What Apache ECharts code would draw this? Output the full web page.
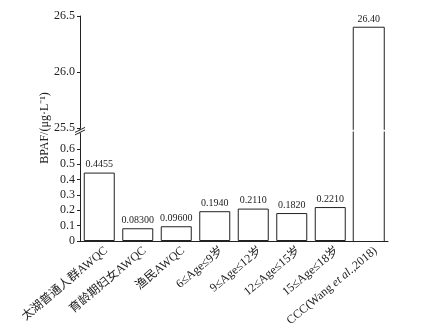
<!DOCTYPE html>
<html><head><meta charset="utf-8">
<script src="https://cdn.jsdelivr.net/npm/echarts@6/dist/echarts.min.js"></script>
<style>html,body{margin:0;padding:0;background:#fff}#c{width:426px;height:332px}</style>
</head><body><div id="c"></div>
<script>
const categories = ['太湖普通人群AWQC','育龄期妇女AWQC','渔民AWQC','6≤Age≤9岁','9≤Age≤12岁','12≤Age≤15岁','15≤Age≤18岁','CCC(Wang et al.,2018)'];
const values = [0.4455, 0.083, 0.096, 0.194, 0.211, 0.182, 0.221, 26.40];
const valueLabels = ['0.4455','0.08300','0.09600','0.1940','0.2110','0.1820','0.2210','26.40'];
const lowerTicks = [0, 0.1, 0.2, 0.3, 0.4, 0.5, 0.6];
const upperTicks = [25.5, 26.0, 26.5];
const lowerMax = 0.7;
const yName = 'BPAF/(μg·L⁻¹)';

const FONT = "'Liberation Serif','Times New Roman','Noto Sans CJK SC',serif";
const INK = '#222';
const BAR_W = 31;

const lowerBars = values.map(v => v > lowerMax ? '-' : v);
const tallIdx = [];
values.forEach((v, i) => { if (v > lowerMax) tallIdx.push([i, v]); });

const chart = echarts.init(document.getElementById('c'), null, {renderer: 'canvas'});

function lowerRender(params, api) {
  const i = api.value(0);
  const b = api.coord([i, 0]);
  const t = api.coord([i, lowerMax]);
  const w = BAR_W / 2;
  const yt = t[1] - 2;
  return {type: 'group', children: [
    {type: 'line', shape: {x1: b[0] - w, y1: b[1], x2: b[0] - w, y2: yt}, style: {stroke: INK, lineWidth: 1}},
    {type: 'line', shape: {x1: b[0] + w, y1: b[1], x2: b[0] + w, y2: yt}, style: {stroke: INK, lineWidth: 1}}
  ]};
}
function upperRender(params, api) {
  const i = api.value(0);
  const v = api.value(1);
  const b = api.coord([i, upperTicks[0]]);
  const t = api.coord([i, v]);
  const w = BAR_W / 2;
  const yb = b[1] + 1.5;
  return {type: 'group', children: [
    {type: 'polyline', shape: {points: [[b[0] - w, yb], [b[0] - w, t[1]], [b[0] + w, t[1]], [b[0] + w, yb]]},
      style: {stroke: INK, lineWidth: 1, fill: null}},
    {type: 'text', style: {x: t[0], y: t[1] - 3, text: valueLabels[i],
      textAlign: 'center', textVerticalAlign: 'bottom', font: "10px " + FONT, fill: INK}}
  ]};
}

const axisLbl = {fontFamily: FONT, fontSize: 12, color: INK};

chart.setOption({
  animation: false,
  backgroundColor: '#fff',
  grid: [
    {left: 80, right: 38, top: 133.5, height: 107.5, outerBoundsMode: 'none', containLabel: false},
    {left: 80, right: 38, top: 16, height: 112.3, outerBoundsMode: 'none', containLabel: false}
  ],
  xAxis: [
    {type: 'category', gridIndex: 0, data: categories,
      axisLine: {lineStyle: {color: INK, width: 1}}, axisTick: {show: false},
      axisLabel: {interval: 0, rotate: 40, margin: 14, padding: [0, -9, 0, 0],
        fontFamily: FONT, fontSize: 12, color: INK,
        formatter: function (v) {
          if (v.indexOf('et al.') >= 0) {
            const p = v.split('et al.');
            return '{n|' + p[0] + '}{i|et al.}{n|' + p[1] + '}';
          }
          return '{n|' + v + '}';
        },
        rich: {n: {fontFamily: FONT, fontSize: 12, color: INK}, i: {fontFamily: FONT, fontSize: 12, fontStyle: 'italic', color: INK}}
      }},
    {type: 'category', gridIndex: 1, data: categories, show: false}
  ],
  yAxis: [
    {type: 'value', gridIndex: 0, min: 0, max: lowerMax, interval: 0.1,
      axisLine: {show: true, lineStyle: {color: INK, width: 1}},
      axisTick: {show: true, length: 3, customValues: lowerTicks, lineStyle: {color: INK}},
      splitLine: {show: false},
      axisLabel: Object.assign({margin: 5, customValues: lowerTicks,
        formatter: v => v === 0 ? '0' : v.toFixed(1)}, axisLbl)},
    {type: 'value', gridIndex: 1, min: upperTicks[0], max: upperTicks[upperTicks.length - 1], interval: 0.5,
      axisLine: {show: true, lineStyle: {color: INK, width: 1}},
      axisTick: {show: true, length: 3, lineStyle: {color: INK}},
      splitLine: {show: false},
      axisLabel: Object.assign({margin: 5, formatter: v => v.toFixed(1)}, axisLbl)}
  ],
  series: [
    {type: 'bar', xAxisIndex: 0, yAxisIndex: 0, data: lowerBars, barWidth: BAR_W,
      itemStyle: {color: '#fff', borderColor: INK, borderWidth: 1},
      label: {show: true, position: 'top', distance: 3, fontFamily: FONT, fontSize: 10, color: INK,
        formatter: p => valueLabels[p.dataIndex]}},
    {type: 'custom', xAxisIndex: 0, yAxisIndex: 0, data: tallIdx, renderItem: lowerRender, clip: false},
    {type: 'custom', xAxisIndex: 1, yAxisIndex: 1, data: tallIdx, renderItem: upperRender, clip: false}
  ]
});

// axis break symbol and y-axis title
const pTop = chart.convertToPixel({yAxisIndex: 1}, upperTicks[0]);
const pBot = chart.convertToPixel({yAxisIndex: 0}, lowerMax);
const ax = chart.convertToPixel({xAxisIndex: 0}, 0) - (chart.convertToPixel({xAxisIndex: 0}, 1) - chart.convertToPixel({xAxisIndex: 0}, 0)) / 2;
const midY = (pTop + pBot) / 2;
chart.setOption({
  graphic: [
    {type: 'line', shape: {x1: ax, y1: pTop, x2: ax, y2: pBot}, style: {stroke: INK, lineWidth: 1}},
    {type: 'polygon', shape: {points: [[ax - 5, midY + 2], [ax + 5, midY - 3], [ax + 5, midY - 1], [ax - 5, midY + 4]]},
      style: {fill: '#fff', stroke: null}},
    {type: 'line', shape: {x1: ax - 5, y1: midY + 1.5, x2: ax + 5, y2: midY - 3.5}, style: {stroke: INK, lineWidth: 1}},
    {type: 'line', shape: {x1: ax - 5, y1: midY + 4, x2: ax + 5, y2: midY - 1}, style: {stroke: INK, lineWidth: 1}},
    {type: 'text', x: 45, y: 128, rotation: Math.PI / 2,
      style: {text: yName, font: "12px " + FONT, fill: INK, textAlign: 'center', textVerticalAlign: 'middle'}}
  ]
});
</script>
</body></html>
